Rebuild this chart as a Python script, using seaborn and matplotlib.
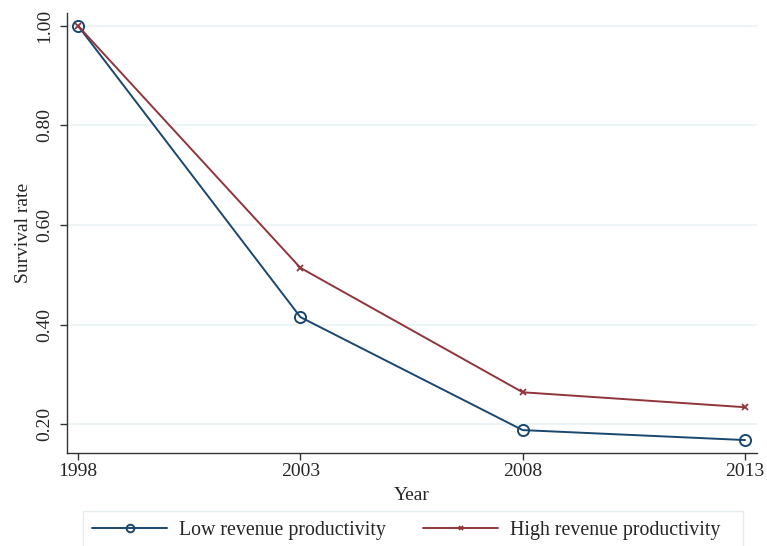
import matplotlib
matplotlib.use("Agg")
import matplotlib.pyplot as plt
from matplotlib.patches import Rectangle
import seaborn as sns
import pandas as pd

years = [1998, 2003, 2008, 2013]
low_rev = [1.00, 0.415, 0.188, 0.168]
high_rev = [1.00, 0.514, 0.264, 0.234]
series_names = ["Low revenue productivity", "High revenue productivity"]
yticks = [0.20, 0.40, 0.60, 0.80, 1.00]

sns.set_style("white")
plt.rcParams["font.family"] = ["Liberation Serif", "DejaVu Serif"]

df = pd.DataFrame({
    "Year": years * 2,
    "rate": low_rev + high_rev,
    "group": [series_names[0]] * 4 + [series_names[1]] * 4,
})

W, H = 767, 546
fig = plt.figure(figsize=(W / 100, H / 100), dpi=100)
ax = fig.add_axes([67 / W, (H - 453) / H, (757 - 67) / W, (453 - 13) / H])

navy, maroon = "#1a476f", "#90353b"
low = df[df["group"] == series_names[0]]
high = df[df["group"] == series_names[1]]
sns.lineplot(data=low, x="Year", y="rate", ax=ax, color=navy, lw=1.4,
             marker="o", markersize=8, markerfacecolor="none",
             markeredgecolor=navy, markeredgewidth=1.4, label=series_names[0])
sns.lineplot(data=high, x="Year", y="rate", ax=ax, color=maroon, lw=1.4,
             marker="x", markersize=4, markeredgewidth=1.3,
             markeredgecolor=maroon, label=series_names[1])

ax.set_xlim(1997.75, 2013.27)
ax.set_ylim(0.142, 1.026)
ax.set_xticks(years)
ax.set_xticklabels([str(y) for y in years], fontsize=14)
ax.set_yticks(yticks)
ax.set_yticklabels([f"{v:.2f}" for v in yticks], fontsize=14, rotation=90, va="center")
ax.yaxis.grid(True, color="#eaf2f3", lw=1.2)
ax.xaxis.grid(False)
for s in ["top", "right"]:
    ax.spines[s].set_visible(False)
for s in ["left", "bottom"]:
    ax.spines[s].set_color("#333333")
    ax.spines[s].set_linewidth(1.0)
ax.tick_params(axis="x", length=5, width=1.0, color="#333333", direction="out",
               bottom=True, pad=2)
ax.tick_params(axis="y", length=5, width=1.0, color="#333333", direction="out",
               left=True, pad=5)
ax.set_xlabel("Year", fontsize=14, labelpad=5)
ax.set_ylabel("Survival rate", fontsize=14, labelpad=3)

ax.get_legend().remove()
handles, labels = ax.get_legend_handles_labels()
leg = fig.legend(handles, labels, loc="center left",
                 bbox_to_anchor=(92 / W, (H - 530) / H), ncol=2, fontsize=14.3,
                 frameon=False, handlelength=3.8, handletextpad=0.6,
                 columnspacing=1.85, borderpad=0, borderaxespad=0)
for lh in leg.legend_handles:
    lh.set_markersize(5.5 if lh.get_marker() == "o" else 3.5)

fig.patches.append(Rectangle((83 / W, -0.05), (743 - 83) / W, 0.05 + (H - 511) / H,
                             transform=fig.transFigure, fill=False,
                             edgecolor="#e4ecef", lw=1.0))

fig.savefig("out.png", dpi=100, facecolor="white")
